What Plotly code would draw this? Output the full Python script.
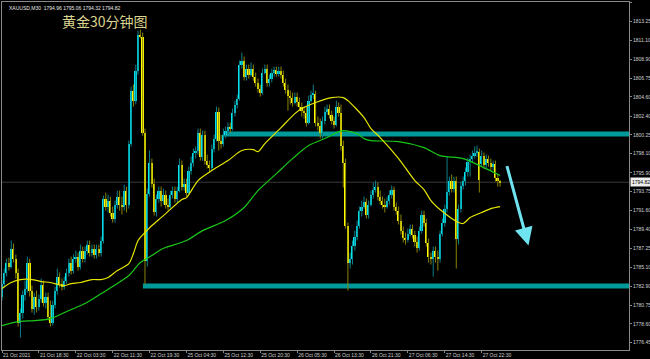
import plotly.graph_objects as go

# ---------------- data ----------------
tick_index = [0, 16, 32, 48, 64, 80, 96, 112, 128, 144, 160, 176, 192, 208]
tick_labels = ["21 Oct 2021", "21 Oct 18:30", "22 Oct 03:30", "22 Oct 11:30", "22 Oct 19:30",
               "25 Oct 04:30", "25 Oct 12:30", "25 Oct 20:30", "26 Oct 05:30", "26 Oct 13:30",
               "26 Oct 21:30", "27 Oct 06:30", "27 Oct 14:30", "27 Oct 22:30"]

price_ticks = [1815.40, 1813.25, 1811.10, 1808.90, 1806.75, 1804.60, 1802.40, 1800.25, 1798.10,
               1795.90, 1793.75, 1791.60, 1789.40, 1787.25, 1785.10, 1782.90, 1780.75, 1778.60, 1776.45]

open_ = [
    1781.72, 1783.21, 1784.47, 1785.62, 1785.16, 1787.22, 1786.07, 1784.47, 1778.74, 1779.89,
    1781.95, 1782.64, 1785.62, 1782.41, 1780.35, 1781.72, 1780.58, 1781.49, 1783.10, 1781.04,
    1781.72, 1779.43, 1778.74, 1780.81, 1782.41, 1784.01, 1783.21, 1782.87, 1783.56, 1784.47,
    1785.62, 1784.70, 1786.07, 1786.30, 1785.16, 1786.99, 1786.07, 1786.99, 1787.68, 1786.76,
    1787.22, 1786.53, 1787.22, 1786.76, 1788.14, 1792.95, 1792.03, 1792.72, 1791.35, 1790.66,
    1792.26, 1793.18, 1792.26, 1792.03, 1793.86, 1792.26, 1799.25, 1805.32, 1804.17, 1807.61,
    1811.74, 1811.51, 1800.51, 1785.85, 1793.52, 1797.07, 1794.67, 1791.46, 1792.95, 1793.86,
    1792.72, 1793.41, 1792.26, 1792.03, 1793.41, 1793.86, 1792.95, 1793.86, 1796.84, 1794.32,
    1794.67, 1793.64, 1796.16, 1797.07, 1798.22, 1798.45, 1800.51, 1797.76, 1800.28, 1797.30,
    1796.84, 1796.50, 1798.68, 1799.82, 1802.91, 1799.59, 1799.25, 1800.28, 1800.74, 1801.20,
    1800.97, 1802.80, 1803.72, 1804.40, 1808.30, 1808.76, 1806.92, 1807.84, 1807.15, 1807.84,
    1806.92, 1806.24, 1805.55, 1805.09, 1807.38, 1807.84, 1806.24, 1806.69, 1807.38, 1807.73,
    1807.27, 1807.61, 1807.15, 1806.24, 1805.43, 1804.75, 1804.52, 1803.95, 1804.63, 1804.06,
    1803.49, 1803.03, 1802.80, 1801.66, 1804.17, 1804.86, 1804.98, 1801.66, 1801.31, 1800.51,
    1801.88, 1802.91, 1803.26, 1802.57, 1801.88, 1801.43, 1803.49, 1802.80, 1799.02, 1797.07,
    1789.86, 1785.62, 1786.07, 1787.57, 1788.60, 1789.86, 1791.57, 1792.03, 1792.61, 1791.12,
    1792.26, 1793.41, 1793.98, 1794.32, 1793.18, 1792.72, 1792.26, 1792.03, 1792.72, 1793.41,
    1793.98, 1792.03, 1791.57, 1790.43, 1789.28, 1788.48, 1788.25, 1788.94, 1789.51, 1788.83,
    1788.02, 1787.34, 1789.28, 1791.12, 1790.20, 1787.91, 1786.30, 1786.07, 1786.99, 1786.30,
    1786.07, 1788.94, 1790.20, 1791.80, 1793.75, 1795.01, 1794.09, 1795.01, 1788.37, 1791.80,
    1794.44, 1795.01, 1796.04, 1797.19, 1797.53, 1797.87, 1798.22, 1798.33, 1796.96, 1797.87,
    1796.84, 1797.53, 1797.07, 1796.61, 1796.96, 1795.35, 1794.96,
]

high = [
    1783.56, 1784.93, 1786.07, 1786.19, 1788.14, 1787.79, 1786.53, 1784.93, 1780.35, 1782.41,
    1783.56, 1786.30, 1786.07, 1782.98, 1782.18, 1782.41, 1781.95, 1783.78, 1783.56, 1782.18,
    1782.18, 1781.26, 1781.26, 1782.87, 1784.93, 1784.47, 1783.78, 1784.01, 1784.93, 1786.07,
    1786.30, 1786.53, 1786.99, 1786.76, 1787.68, 1787.45, 1787.45, 1788.14, 1788.14, 1787.68,
    1787.68, 1787.68, 1787.68, 1788.60, 1793.29, 1793.64, 1793.41, 1793.18, 1792.03, 1792.72,
    1793.86, 1793.86, 1793.18, 1794.55, 1794.32, 1799.59, 1805.78, 1806.01, 1808.30, 1812.19,
    1812.31, 1811.96, 1800.97, 1794.09, 1798.45, 1797.53, 1795.24, 1793.41, 1794.32, 1794.32,
    1794.09, 1793.86, 1792.95, 1793.86, 1794.32, 1794.32, 1794.32, 1797.53, 1797.30, 1795.24,
    1795.24, 1796.61, 1797.76, 1798.68, 1798.91, 1800.97, 1800.97, 1800.74, 1800.74, 1797.99,
    1797.30, 1799.13, 1800.28, 1803.49, 1803.37, 1800.28, 1800.97, 1801.20, 1801.66, 1801.66,
    1803.26, 1804.17, 1804.86, 1808.76, 1809.67, 1809.22, 1808.30, 1808.30, 1808.53, 1808.30,
    1807.38, 1806.69, 1806.01, 1807.84, 1808.30, 1808.30, 1807.15, 1807.84, 1808.07, 1808.07,
    1808.07, 1808.07, 1807.61, 1806.69, 1806.01, 1805.32, 1805.09, 1805.09, 1805.09, 1804.52,
    1803.95, 1803.49, 1803.49, 1804.75, 1805.32, 1806.01, 1805.32, 1802.34, 1802.11, 1802.34,
    1803.49, 1803.72, 1803.72, 1803.03, 1802.34, 1804.17, 1803.95, 1803.72, 1799.59, 1797.53,
    1790.20, 1786.76, 1788.14, 1789.28, 1790.43, 1792.03, 1792.72, 1793.18, 1792.95, 1792.72,
    1793.86, 1794.78, 1795.01, 1794.78, 1793.86, 1793.18, 1792.95, 1793.18, 1793.86, 1794.44,
    1794.32, 1792.49, 1792.03, 1791.12, 1789.74, 1789.05, 1789.51, 1789.97, 1789.97, 1789.28,
    1788.60, 1789.74, 1791.57, 1791.57, 1790.66, 1788.37, 1786.76, 1787.45, 1787.45, 1786.99,
    1789.28, 1790.66, 1792.26, 1797.76, 1795.47, 1795.70, 1795.47, 1795.47, 1792.26, 1794.90,
    1795.47, 1796.50, 1797.65, 1797.99, 1798.45, 1798.91, 1799.02, 1798.68, 1798.45, 1798.22,
    1797.99, 1797.87, 1797.53, 1797.30, 1797.30, 1795.70, 1795.06,
]

low = [
    1781.26, 1782.75, 1784.01, 1784.70, 1784.93, 1785.62, 1783.78, 1778.28, 1777.03, 1779.20,
    1781.26, 1782.18, 1781.72, 1779.89, 1779.66, 1779.89, 1780.12, 1781.04, 1780.58, 1780.35,
    1778.97, 1778.28, 1778.40, 1780.35, 1781.95, 1782.75, 1782.41, 1782.52, 1783.21, 1784.01,
    1784.24, 1784.36, 1785.62, 1784.70, 1784.82, 1785.62, 1785.62, 1786.53, 1786.30, 1786.30,
    1786.07, 1786.07, 1786.30, 1786.30, 1787.79, 1791.57, 1791.35, 1790.89, 1790.20, 1790.20,
    1791.80, 1791.57, 1791.12, 1791.57, 1791.35, 1791.80, 1798.91, 1803.49, 1803.72, 1807.15,
    1811.28, 1800.16, 1783.10, 1785.16, 1793.18, 1794.21, 1791.00, 1790.89, 1792.49, 1792.03,
    1792.26, 1791.80, 1791.57, 1791.80, 1792.95, 1792.49, 1792.49, 1793.64, 1793.86, 1793.86,
    1793.18, 1793.41, 1795.70, 1796.61, 1797.53, 1797.99, 1797.30, 1797.30, 1796.84, 1796.39,
    1795.93, 1796.16, 1798.22, 1799.48, 1798.45, 1798.68, 1798.91, 1799.82, 1800.28, 1800.51,
    1800.74, 1802.34, 1803.26, 1804.17, 1807.84, 1806.47, 1806.47, 1806.69, 1806.92, 1806.47,
    1805.78, 1805.09, 1804.63, 1804.86, 1807.15, 1805.78, 1805.78, 1806.24, 1806.92, 1806.92,
    1806.92, 1806.69, 1805.78, 1804.98, 1803.03, 1803.72, 1803.49, 1803.72, 1803.49, 1803.03,
    1802.34, 1802.11, 1801.20, 1801.43, 1803.95, 1804.40, 1801.20, 1800.74, 1799.82, 1799.82,
    1801.43, 1802.57, 1802.11, 1801.43, 1800.97, 1801.20, 1802.34, 1798.45, 1794.21, 1789.51,
    1782.41, 1784.93, 1785.39, 1786.99, 1788.14, 1789.51, 1790.89, 1791.80, 1790.66, 1790.66,
    1792.03, 1792.95, 1793.64, 1792.72, 1792.26, 1791.80, 1791.35, 1791.80, 1792.26, 1792.95,
    1791.57, 1791.12, 1789.97, 1788.83, 1787.91, 1787.68, 1787.91, 1788.60, 1788.37, 1787.45,
    1786.76, 1786.99, 1788.94, 1789.74, 1787.45, 1785.62, 1785.39, 1784.01, 1785.62, 1784.70,
    1785.62, 1788.60, 1789.74, 1791.35, 1793.29, 1793.64, 1793.64, 1784.93, 1787.68, 1791.35,
    1793.98, 1794.44, 1795.47, 1795.47, 1797.07, 1797.53, 1797.76, 1793.64, 1796.61, 1796.39,
    1796.39, 1796.61, 1796.16, 1796.16, 1794.90, 1794.32, 1794.32,
]

close = [
    1783.21, 1784.47, 1785.62, 1785.16, 1787.22, 1786.07, 1784.47, 1778.74, 1779.89, 1781.95,
    1782.64, 1785.62, 1782.41, 1780.35, 1781.72, 1780.58, 1781.49, 1783.10, 1781.04, 1781.72,
    1779.43, 1778.74, 1780.81, 1782.41, 1784.01, 1783.21, 1782.87, 1783.56, 1784.47, 1785.62,
    1784.70, 1786.07, 1786.30, 1785.16, 1786.99, 1786.07, 1786.99, 1787.68, 1786.76, 1787.22,
    1786.53, 1787.22, 1786.76, 1788.14, 1792.95, 1792.03, 1792.72, 1791.35, 1790.66, 1792.26,
    1793.18, 1792.26, 1792.03, 1793.86, 1792.26, 1799.25, 1805.32, 1804.17, 1807.61, 1811.74,
    1811.51, 1800.51, 1785.85, 1793.52, 1797.07, 1794.67, 1791.46, 1792.95, 1793.86, 1792.72,
    1793.41, 1792.26, 1792.03, 1793.41, 1793.86, 1792.95, 1793.86, 1796.84, 1794.32, 1794.67,
    1793.64, 1796.16, 1797.07, 1798.22, 1798.45, 1800.51, 1797.76, 1800.28, 1797.30, 1796.84,
    1796.50, 1798.68, 1799.82, 1802.91, 1799.59, 1799.25, 1800.28, 1800.74, 1801.20, 1800.97,
    1802.80, 1803.72, 1804.40, 1808.30, 1808.76, 1806.92, 1807.84, 1807.15, 1807.84, 1806.92,
    1806.24, 1805.55, 1805.09, 1807.38, 1807.84, 1806.24, 1806.69, 1807.38, 1807.73, 1807.27,
    1807.61, 1807.15, 1806.24, 1805.43, 1804.75, 1804.52, 1803.95, 1804.63, 1804.06, 1803.49,
    1803.03, 1802.80, 1801.66, 1804.17, 1804.86, 1804.98, 1801.66, 1801.31, 1800.51, 1801.88,
    1802.91, 1803.26, 1802.57, 1801.88, 1801.43, 1803.49, 1802.80, 1799.02, 1797.07, 1789.86,
    1785.62, 1786.07, 1787.57, 1788.60, 1789.86, 1791.57, 1792.03, 1792.61, 1791.12, 1792.26,
    1793.41, 1793.98, 1794.32, 1793.18, 1792.72, 1792.26, 1792.03, 1792.72, 1793.41, 1793.98,
    1792.03, 1791.57, 1790.43, 1789.28, 1788.48, 1788.25, 1788.94, 1789.51, 1788.83, 1788.02,
    1787.34, 1789.28, 1791.12, 1790.20, 1787.91, 1786.30, 1786.07, 1786.99, 1786.30, 1786.07,
    1788.94, 1790.20, 1791.80, 1793.75, 1795.01, 1794.09, 1795.01, 1788.37, 1791.80, 1794.44,
    1795.01, 1796.04, 1797.19, 1797.53, 1797.87, 1798.22, 1798.33, 1795.12, 1797.87, 1796.84,
    1797.53, 1797.07, 1796.61, 1796.96, 1795.35, 1795.01, 1794.82,
]

# moving averages (bar index, value)
ma_fast_idx = [0, 4, 8, 13, 17, 21, 27, 30, 34, 39, 43, 46, 50, 55, 57, 59, 62, 65, 69, 71,
               78, 80, 85, 91, 93, 98, 104, 109, 111, 114, 121, 127, 130, 136, 143, 148, 150,
               157, 160, 164, 172, 179, 183, 186, 191, 198, 200, 203, 208, 212, 216]
ma_fast_val = [1782.64, 1783.33, 1783.67, 1783.67, 1783.44, 1783.33, 1782.98, 1783.21, 1783.33,
               1783.67, 1783.67, 1783.90, 1784.70, 1785.50, 1786.65, 1788.14, 1789.05, 1789.86,
               1790.77, 1791.23, 1792.84, 1793.06, 1795.01, 1796.16, 1796.50, 1797.30, 1798.45,
               1798.56, 1798.33, 1799.25, 1801.08, 1802.68, 1803.26, 1803.95, 1804.52, 1804.52,
               1804.17, 1802.23, 1800.97, 1799.94, 1797.53, 1795.01, 1793.98, 1792.72, 1791.46,
               1790.20, 1790.09, 1790.77, 1791.35, 1791.80, 1792.03]

ma_slow_idx = [0, 7, 14, 21, 29, 36, 43, 50, 55, 60, 65, 69, 71, 80, 87, 97, 105, 111, 119,
               126, 133, 141, 145, 148, 154, 157, 160, 172, 183, 190, 200, 208, 216]
ma_slow_val = [1778.40, 1778.86, 1778.97, 1779.20, 1780.12, 1780.92, 1782.06, 1783.21, 1784.13,
               1785.62, 1786.42, 1787.11, 1787.34, 1788.14, 1789.28, 1790.43, 1791.92, 1793.86,
               1795.81, 1797.53, 1799.02, 1799.94, 1800.51, 1800.74, 1800.39, 1799.82, 1799.59,
               1799.48, 1798.79, 1797.87, 1797.53, 1796.61, 1795.60]

# horizontal levels drawn on the chart (price, starting bar index)
level_price = [1800.35, 1782.93]
level_start = [95.8, 61.1]

current_price = 1794.82
header_text = "XAUUSD,M30  1794.96 1795.06 1794.32 1794.82"
title_text = "黄金30分钟图"

# arrow (bar index / price of start and tip)
arrow_start = (218.8, 1796.84)
arrow_end = (228.3, 1787.57)

# ---------------- figure ----------------
X_RANGE = [0.0, 271.9]
Y_RANGE = [1775.60, 1815.47]

BULL = "#00E5EE"
BEAR = "#FFFF00"
BULL_WICK = "#0A7F88"
BEAR_WICK = "#8A8200"

idx = list(range(len(close)))

fig = go.Figure()

# wicks
for is_bull, col in [(True, BULL_WICK), (False, BEAR_WICK)]:
    wx, wy = [], []
    for i in idx:
        if (close[i] >= open_[i]) == is_bull:
            wx += [i, i, None]
            wy += [low[i], high[i], None]
    fig.add_trace(go.Scatter(x=wx, y=wy, mode="lines", line=dict(color=col, width=1),
                             hoverinfo="skip", showlegend=False))

# bodies
body_colors = [BULL if close[i] >= open_[i] else BEAR for i in idx]
fig.add_trace(go.Bar(x=idx, y=[close[i] - open_[i] for i in idx], base=open_,
                     marker=dict(color=body_colors, line=dict(width=0)),
                     width=0.72, showlegend=False, hoverinfo="skip"))

# moving averages
fig.add_trace(go.Scatter(x=ma_slow_idx, y=ma_slow_val, mode="lines",
                         line=dict(color="#19C819", width=1.2, shape="spline", smoothing=0.8),
                         showlegend=False, hoverinfo="skip"))
fig.add_trace(go.Scatter(x=ma_fast_idx, y=ma_fast_val, mode="lines",
                         line=dict(color="#E6E600", width=1.2, shape="spline", smoothing=0.8),
                         showlegend=False, hoverinfo="skip"))

shapes = []
# current price line
shapes.append(dict(type="line", xref="x", yref="y", x0=X_RANGE[0], x1=X_RANGE[1],
                   y0=current_price, y1=current_price, line=dict(color="#3a3a3a", width=1),
                   layer="below"))
for p, s in zip(level_price, level_start):
    shapes.append(dict(type="line", xref="x", yref="y", x0=s, x1=X_RANGE[1], y0=p, y1=p,
                       line=dict(color="#009A9A", width=5), layer="below"))

annotations = [
    dict(xref="x", yref="y", x=arrow_end[0], y=arrow_end[1], ax=arrow_start[0], ay=arrow_start[1],
         axref="x", ayref="y", text="", showarrow=True, arrowhead=2, arrowsize=1.2,
         arrowwidth=3, arrowcolor="#6FE3F0"),
    dict(xref="paper", yref="y", x=1.0, y=current_price, xanchor="left", yanchor="middle",
         text=f"{current_price:.2f}", showarrow=False,
         font=dict(size=5, color="black", family="Liberation Sans"), bgcolor="#EDEDED",
         borderpad=1, xshift=1),
    dict(xref="paper", yref="paper", x=0.008, y=0.997, xanchor="left", yanchor="top",
         text=header_text, showarrow=False,
         font=dict(size=5, color="#E8E8E8", family="Liberation Sans")),
    dict(xref="paper", yref="paper", x=0.092, y=0.946, xanchor="left", yanchor="middle",
         text=title_text, showarrow=False,
         font=dict(size=14, color="#DCD48E", family="Noto Sans CJK SC")),
]

fig.update_layout(
    width=650, height=359,
    margin=dict(l=2, r=21, t=2, b=9, autoexpand=False),
    paper_bgcolor="black", plot_bgcolor="black",
    showlegend=False, barmode="overlay", bargap=0,
    shapes=shapes, annotations=annotations,
    xaxis=dict(range=X_RANGE, showgrid=False, zeroline=False, tickmode="array",
               tickvals=tick_index, ticktext=tick_labels, ticks="outside", ticklen=2,
               tickangle=0, automargin=False,
               tickcolor="#888888", ticklabelposition="outside right",
               tickfont=dict(size=5, color="#D0D0D0", family="Liberation Sans"),
               showline=True, linecolor="#8a8a8a", linewidth=1, mirror=True, fixedrange=True),
    yaxis=dict(range=Y_RANGE, side="right", showgrid=False, zeroline=False, tickmode="array",
               tickvals=price_ticks, ticktext=[f"{v:.2f}" for v in price_ticks],
               ticks="outside", ticklen=2, tickcolor="#888888", automargin=False,
               tickfont=dict(size=5, color="#D0D0D0", family="Liberation Sans"),
               showline=True, linecolor="#8a8a8a", linewidth=1, mirror=True, fixedrange=True),
)

fig.write_html("out.html", config={"displayModeBar": False})
